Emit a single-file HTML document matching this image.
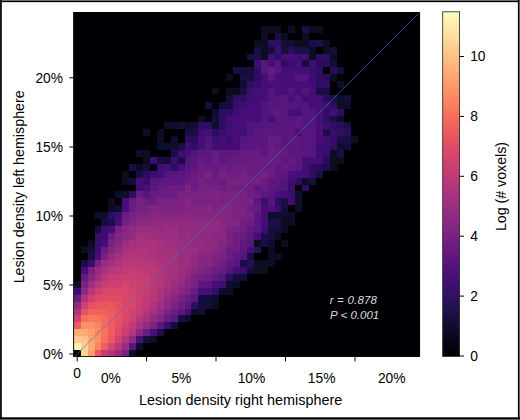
<!DOCTYPE html>
<html><head><meta charset="utf-8">
<style>
html,body{margin:0;padding:0;background:#fff;}
body{width:520px;height:420px;overflow:hidden;position:relative;font-family:"Liberation Sans",sans-serif;}
svg{position:absolute;left:0;top:0;}
text{font-family:"Liberation Sans",sans-serif;fill:#000;}
</style></head><body>
<svg width="520" height="420" viewBox="0 0 520 420">
<defs>
<linearGradient id="cb" x1="0" y1="0" x2="0" y2="1"><stop offset="0.000" stop-color="#fcfdbf"/><stop offset="0.043" stop-color="#fde9aa"/><stop offset="0.087" stop-color="#fed597"/><stop offset="0.130" stop-color="#fec185"/><stop offset="0.174" stop-color="#feac76"/><stop offset="0.217" stop-color="#fd9869"/><stop offset="0.261" stop-color="#fb835f"/><stop offset="0.304" stop-color="#f66e5c"/><stop offset="0.348" stop-color="#ed5a5f"/><stop offset="0.391" stop-color="#e04c67"/><stop offset="0.435" stop-color="#d0416f"/><stop offset="0.478" stop-color="#bf3a77"/><stop offset="0.522" stop-color="#ad347c"/><stop offset="0.565" stop-color="#9b2e7f"/><stop offset="0.609" stop-color="#892881"/><stop offset="0.652" stop-color="#782281"/><stop offset="0.696" stop-color="#651a80"/><stop offset="0.739" stop-color="#54137d"/><stop offset="0.783" stop-color="#420f75"/><stop offset="0.826" stop-color="#2f1163"/><stop offset="0.870" stop-color="#1e1149"/><stop offset="0.913" stop-color="#110c2f"/><stop offset="0.957" stop-color="#060518"/><stop offset="1.000" stop-color="#000004"/></linearGradient>
<filter id="bl" x="-2%" y="-2%" width="104%" height="104%"><feGaussianBlur stdDeviation="0.5"/></filter>
<clipPath id="cp"><rect x="73.5" y="12.1" width="346.4" height="344.7"/></clipPath>
</defs>
<rect x="0" y="0" width="520" height="420" fill="#fff"/>
<!-- frame -->
<rect x="0" y="0" width="520" height="1" fill="#7a7a7a"/>
<rect x="0" y="0.9" width="520" height="1.25" fill="#000"/>
<rect x="0" y="0" width="1.9" height="420" fill="#161616"/>
<rect x="517.9" y="0" width="1.3" height="420" fill="#000"/>
<rect x="519.1" y="0" width="0.9" height="420" fill="#555"/>
<rect x="0" y="417.3" width="520" height="1.7" fill="#000"/>
<rect x="0" y="419" width="520" height="1" fill="#555"/>
<!-- heatmap -->
<rect x="73.5" y="12.1" width="346.4" height="344.7" fill="#000004"/>
<g clip-path="url(#cp)"><g filter="url(#bl)"><g shape-rendering="crispEdges">
<rect x="80.67" y="349.81" width="6.97" height="6.94" fill="#fed597"/>
<rect x="87.60" y="349.81" width="6.97" height="6.94" fill="#fe9d6c"/>
<rect x="94.52" y="349.81" width="6.97" height="6.94" fill="#ea5661"/>
<rect x="101.44" y="349.81" width="6.97" height="6.94" fill="#c73d73"/>
<rect x="108.36" y="349.81" width="6.97" height="6.94" fill="#b0357b"/>
<rect x="115.29" y="349.81" width="6.97" height="6.94" fill="#962c80"/>
<rect x="122.21" y="349.81" width="6.97" height="6.94" fill="#732081"/>
<rect x="129.13" y="349.81" width="6.97" height="6.94" fill="#090720"/>
<rect x="73.75" y="342.92" width="6.97" height="6.94" fill="#fcf2b4"/>
<rect x="80.67" y="342.92" width="6.97" height="6.94" fill="#fed194"/>
<rect x="87.60" y="342.92" width="6.97" height="6.94" fill="#feac76"/>
<rect x="94.52" y="342.92" width="6.97" height="6.94" fill="#fb835f"/>
<rect x="101.44" y="342.92" width="6.97" height="6.94" fill="#ef5d5e"/>
<rect x="108.36" y="342.92" width="6.97" height="6.94" fill="#d8456c"/>
<rect x="115.29" y="342.92" width="6.97" height="6.94" fill="#b83779"/>
<rect x="122.21" y="342.92" width="6.97" height="6.94" fill="#992d80"/>
<rect x="129.13" y="342.92" width="6.97" height="6.94" fill="#54137d"/>
<rect x="136.06" y="342.92" width="6.97" height="6.94" fill="#110c2f"/>
<rect x="73.75" y="336.03" width="6.97" height="6.94" fill="#feca8d"/>
<rect x="80.67" y="336.03" width="6.97" height="6.94" fill="#fec185"/>
<rect x="87.60" y="336.03" width="6.97" height="6.94" fill="#fea772"/>
<rect x="94.52" y="336.03" width="6.97" height="6.94" fill="#fc8e64"/>
<rect x="101.44" y="336.03" width="6.97" height="6.94" fill="#f66e5c"/>
<rect x="108.36" y="336.03" width="6.97" height="6.94" fill="#ea5661"/>
<rect x="115.29" y="336.03" width="6.97" height="6.94" fill="#d0416f"/>
<rect x="122.21" y="336.03" width="6.97" height="6.94" fill="#b5367a"/>
<rect x="129.13" y="336.03" width="6.97" height="6.94" fill="#8e2a81"/>
<rect x="136.06" y="336.03" width="6.97" height="6.94" fill="#4a1079"/>
<rect x="142.98" y="336.03" width="6.97" height="6.94" fill="#150e38"/>
<rect x="149.90" y="336.03" width="6.97" height="6.94" fill="#090720"/>
<rect x="73.75" y="329.14" width="13.90" height="6.94" fill="#feac76"/>
<rect x="87.60" y="329.14" width="6.97" height="6.94" fill="#fe9d6c"/>
<rect x="94.52" y="329.14" width="6.97" height="6.94" fill="#fc8961"/>
<rect x="101.44" y="329.14" width="6.97" height="6.94" fill="#f8745c"/>
<rect x="108.36" y="329.14" width="6.97" height="6.94" fill="#ef5d5e"/>
<rect x="115.29" y="329.14" width="6.97" height="6.94" fill="#de4968"/>
<rect x="122.21" y="329.14" width="6.97" height="6.94" fill="#ca3e72"/>
<rect x="129.13" y="329.14" width="6.97" height="6.94" fill="#b0357b"/>
<rect x="136.06" y="329.14" width="6.97" height="6.94" fill="#882781"/>
<rect x="142.98" y="329.14" width="6.97" height="6.94" fill="#651a80"/>
<rect x="149.90" y="329.14" width="6.97" height="6.94" fill="#4a1079"/>
<rect x="156.83" y="329.14" width="6.97" height="6.94" fill="#1e1149"/>
<rect x="73.75" y="322.25" width="6.97" height="6.94" fill="#ef5d5e"/>
<rect x="80.67" y="322.25" width="6.97" height="6.94" fill="#fd9266"/>
<rect x="87.60" y="322.25" width="6.97" height="6.94" fill="#fc8e64"/>
<rect x="94.52" y="322.25" width="6.97" height="6.94" fill="#fb835f"/>
<rect x="101.44" y="322.25" width="6.97" height="6.94" fill="#f66e5c"/>
<rect x="108.36" y="322.25" width="6.97" height="6.94" fill="#ef5d5e"/>
<rect x="115.29" y="322.25" width="6.97" height="6.94" fill="#e44f64"/>
<rect x="122.21" y="322.25" width="6.97" height="6.94" fill="#d3436e"/>
<rect x="129.13" y="322.25" width="6.97" height="6.94" fill="#bf3a77"/>
<rect x="136.06" y="322.25" width="6.97" height="6.94" fill="#aa337d"/>
<rect x="142.98" y="322.25" width="6.97" height="6.94" fill="#8e2a81"/>
<rect x="149.90" y="322.25" width="6.97" height="6.94" fill="#7c2382"/>
<rect x="156.83" y="322.25" width="6.97" height="6.94" fill="#5c167f"/>
<rect x="163.75" y="322.25" width="6.97" height="6.94" fill="#38106c"/>
<rect x="170.67" y="322.25" width="6.97" height="6.94" fill="#150e38"/>
<rect x="73.75" y="315.36" width="6.97" height="6.94" fill="#d0416f"/>
<rect x="80.67" y="315.36" width="6.97" height="6.94" fill="#f66e5c"/>
<rect x="87.60" y="315.36" width="6.97" height="6.94" fill="#f9795d"/>
<rect x="94.52" y="315.36" width="6.97" height="6.94" fill="#f8745c"/>
<rect x="101.44" y="315.36" width="6.97" height="6.94" fill="#f56b5c"/>
<rect x="108.36" y="315.36" width="6.97" height="6.94" fill="#ef5d5e"/>
<rect x="115.29" y="315.36" width="6.97" height="6.94" fill="#e75263"/>
<rect x="122.21" y="315.36" width="6.97" height="6.94" fill="#db476a"/>
<rect x="129.13" y="315.36" width="6.97" height="6.94" fill="#cd4071"/>
<rect x="136.06" y="315.36" width="6.97" height="6.94" fill="#b73779"/>
<rect x="142.98" y="315.36" width="6.97" height="6.94" fill="#a5317e"/>
<rect x="149.90" y="315.36" width="6.97" height="6.94" fill="#902a81"/>
<rect x="156.83" y="315.36" width="6.97" height="6.94" fill="#812581"/>
<rect x="163.75" y="315.36" width="6.97" height="6.94" fill="#6b1d81"/>
<rect x="170.67" y="315.36" width="6.97" height="6.94" fill="#5c167f"/>
<rect x="177.59" y="315.36" width="6.97" height="6.94" fill="#1e1149"/>
<rect x="184.52" y="315.36" width="6.97" height="6.94" fill="#110c2f"/>
<rect x="73.75" y="308.47" width="6.97" height="6.94" fill="#b0357b"/>
<rect x="80.67" y="308.47" width="6.97" height="6.94" fill="#e75263"/>
<rect x="87.60" y="308.47" width="20.82" height="6.94" fill="#f2625d"/>
<rect x="108.36" y="308.47" width="6.97" height="6.94" fill="#ed5a5f"/>
<rect x="115.29" y="308.47" width="6.97" height="6.94" fill="#e75263"/>
<rect x="122.21" y="308.47" width="6.97" height="6.94" fill="#de4968"/>
<rect x="129.13" y="308.47" width="6.97" height="6.94" fill="#d2426f"/>
<rect x="136.06" y="308.47" width="6.97" height="6.94" fill="#c53c74"/>
<rect x="142.98" y="308.47" width="6.97" height="6.94" fill="#b2357b"/>
<rect x="149.90" y="308.47" width="6.97" height="6.94" fill="#a1307e"/>
<rect x="156.83" y="308.47" width="6.97" height="6.94" fill="#902a81"/>
<rect x="163.75" y="308.47" width="6.97" height="6.94" fill="#782281"/>
<rect x="170.67" y="308.47" width="6.97" height="6.94" fill="#6b1d81"/>
<rect x="177.59" y="308.47" width="6.97" height="6.94" fill="#5f187f"/>
<rect x="184.52" y="308.47" width="6.97" height="6.94" fill="#440f76"/>
<rect x="191.44" y="308.47" width="6.97" height="6.94" fill="#0b0924"/>
<rect x="198.36" y="308.47" width="6.97" height="6.94" fill="#150e38"/>
<rect x="73.75" y="301.58" width="6.97" height="6.94" fill="#8e2a81"/>
<rect x="80.67" y="301.58" width="6.97" height="6.94" fill="#d0416f"/>
<rect x="87.60" y="301.58" width="6.97" height="6.94" fill="#e44f64"/>
<rect x="94.52" y="301.58" width="20.82" height="6.94" fill="#ea5661"/>
<rect x="115.29" y="301.58" width="6.97" height="6.94" fill="#e44f64"/>
<rect x="122.21" y="301.58" width="6.97" height="6.94" fill="#db476a"/>
<rect x="129.13" y="301.58" width="6.97" height="6.94" fill="#d5446d"/>
<rect x="136.06" y="301.58" width="6.97" height="6.94" fill="#ca3e72"/>
<rect x="142.98" y="301.58" width="6.97" height="6.94" fill="#bf3a77"/>
<rect x="149.90" y="301.58" width="6.97" height="6.94" fill="#ae347b"/>
<rect x="156.83" y="301.58" width="6.97" height="6.94" fill="#a02f7f"/>
<rect x="163.75" y="301.58" width="6.97" height="6.94" fill="#8e2a81"/>
<rect x="170.67" y="301.58" width="6.97" height="6.94" fill="#7c2382"/>
<rect x="177.59" y="301.58" width="6.97" height="6.94" fill="#6b1d81"/>
<rect x="184.52" y="301.58" width="6.97" height="6.94" fill="#5c167f"/>
<rect x="191.44" y="301.58" width="6.97" height="6.94" fill="#2f1163"/>
<rect x="198.36" y="301.58" width="13.90" height="6.94" fill="#150e38"/>
<rect x="212.21" y="301.58" width="6.97" height="6.94" fill="#0b0924"/>
<rect x="73.75" y="294.69" width="6.97" height="6.94" fill="#651a80"/>
<rect x="80.67" y="294.69" width="6.97" height="6.94" fill="#b0357b"/>
<rect x="87.60" y="294.69" width="6.97" height="6.94" fill="#d0416f"/>
<rect x="94.52" y="294.69" width="6.97" height="6.94" fill="#de4968"/>
<rect x="101.44" y="294.69" width="20.82" height="6.94" fill="#e04c67"/>
<rect x="122.21" y="294.69" width="6.97" height="6.94" fill="#db476a"/>
<rect x="129.13" y="294.69" width="6.97" height="6.94" fill="#d6456c"/>
<rect x="136.06" y="294.69" width="6.97" height="6.94" fill="#cf4070"/>
<rect x="142.98" y="294.69" width="6.97" height="6.94" fill="#bf3a77"/>
<rect x="149.90" y="294.69" width="6.97" height="6.94" fill="#b83779"/>
<rect x="156.83" y="294.69" width="6.97" height="6.94" fill="#a8327d"/>
<rect x="163.75" y="294.69" width="6.97" height="6.94" fill="#962c80"/>
<rect x="170.67" y="294.69" width="6.97" height="6.94" fill="#862781"/>
<rect x="177.59" y="294.69" width="6.97" height="6.94" fill="#752181"/>
<rect x="184.52" y="294.69" width="6.97" height="6.94" fill="#651a80"/>
<rect x="191.44" y="294.69" width="6.97" height="6.94" fill="#5c167f"/>
<rect x="198.36" y="294.69" width="13.90" height="6.94" fill="#180f3d"/>
<rect x="212.21" y="294.69" width="6.97" height="6.94" fill="#110c2f"/>
<rect x="73.75" y="287.80" width="6.97" height="6.94" fill="#3d0f71"/>
<rect x="80.67" y="287.80" width="6.97" height="6.94" fill="#8e2a81"/>
<rect x="87.60" y="287.80" width="6.97" height="6.94" fill="#b83779"/>
<rect x="94.52" y="287.80" width="6.97" height="6.94" fill="#cd4071"/>
<rect x="101.44" y="287.80" width="6.97" height="6.94" fill="#d8456c"/>
<rect x="108.36" y="287.80" width="13.90" height="6.94" fill="#db476a"/>
<rect x="122.21" y="287.80" width="6.97" height="6.94" fill="#d9466b"/>
<rect x="129.13" y="287.80" width="6.97" height="6.94" fill="#d3436e"/>
<rect x="136.06" y="287.80" width="6.97" height="6.94" fill="#cc3f71"/>
<rect x="142.98" y="287.80" width="6.97" height="6.94" fill="#c73d73"/>
<rect x="149.90" y="287.80" width="6.97" height="6.94" fill="#b83779"/>
<rect x="156.83" y="287.80" width="6.97" height="6.94" fill="#ae347b"/>
<rect x="163.75" y="287.80" width="6.97" height="6.94" fill="#9e2f7f"/>
<rect x="170.67" y="287.80" width="6.97" height="6.94" fill="#962c80"/>
<rect x="177.59" y="287.80" width="6.97" height="6.94" fill="#862781"/>
<rect x="184.52" y="287.80" width="6.97" height="6.94" fill="#7c2382"/>
<rect x="191.44" y="287.80" width="6.97" height="6.94" fill="#651a80"/>
<rect x="198.36" y="287.80" width="6.97" height="6.94" fill="#4a1079"/>
<rect x="205.29" y="287.80" width="6.97" height="6.94" fill="#440f76"/>
<rect x="212.21" y="287.80" width="6.97" height="6.94" fill="#2f1163"/>
<rect x="219.13" y="287.80" width="6.97" height="6.94" fill="#110c2f"/>
<rect x="226.06" y="287.80" width="6.97" height="6.94" fill="#0b0924"/>
<rect x="73.75" y="280.91" width="6.97" height="6.94" fill="#110c2f"/>
<rect x="80.67" y="280.91" width="6.97" height="6.94" fill="#762181"/>
<rect x="87.60" y="280.91" width="6.97" height="6.94" fill="#a02f7f"/>
<rect x="94.52" y="280.91" width="6.97" height="6.94" fill="#b83779"/>
<rect x="101.44" y="280.91" width="6.97" height="6.94" fill="#c53c74"/>
<rect x="108.36" y="280.91" width="6.97" height="6.94" fill="#cf4070"/>
<rect x="115.29" y="280.91" width="6.97" height="6.94" fill="#d0416f"/>
<rect x="122.21" y="280.91" width="6.97" height="6.94" fill="#d5446d"/>
<rect x="129.13" y="280.91" width="6.97" height="6.94" fill="#cf4070"/>
<rect x="136.06" y="280.91" width="6.97" height="6.94" fill="#cc3f71"/>
<rect x="142.98" y="280.91" width="6.97" height="6.94" fill="#c73d73"/>
<rect x="149.90" y="280.91" width="6.97" height="6.94" fill="#bc3978"/>
<rect x="156.83" y="280.91" width="6.97" height="6.94" fill="#b3367a"/>
<rect x="163.75" y="280.91" width="6.97" height="6.94" fill="#aa337d"/>
<rect x="170.67" y="280.91" width="6.97" height="6.94" fill="#992d80"/>
<rect x="177.59" y="280.91" width="6.97" height="6.94" fill="#8e2a81"/>
<rect x="184.52" y="280.91" width="6.97" height="6.94" fill="#862781"/>
<rect x="191.44" y="280.91" width="6.97" height="6.94" fill="#792282"/>
<rect x="198.36" y="280.91" width="6.97" height="6.94" fill="#5f187f"/>
<rect x="205.29" y="280.91" width="6.97" height="6.94" fill="#5c167f"/>
<rect x="212.21" y="280.91" width="6.97" height="6.94" fill="#4a1079"/>
<rect x="219.13" y="280.91" width="6.97" height="6.94" fill="#3d0f71"/>
<rect x="226.06" y="280.91" width="6.97" height="6.94" fill="#110c2f"/>
<rect x="232.98" y="280.91" width="6.97" height="6.94" fill="#0b0924"/>
<rect x="80.67" y="274.02" width="6.97" height="6.94" fill="#651a80"/>
<rect x="87.60" y="274.02" width="6.97" height="6.94" fill="#882781"/>
<rect x="94.52" y="274.02" width="6.97" height="6.94" fill="#a02f7f"/>
<rect x="101.44" y="274.02" width="6.97" height="6.94" fill="#b73779"/>
<rect x="108.36" y="274.02" width="6.97" height="6.94" fill="#c43c75"/>
<rect x="115.29" y="274.02" width="6.97" height="6.94" fill="#c73d73"/>
<rect x="122.21" y="274.02" width="6.97" height="6.94" fill="#cc3f71"/>
<rect x="129.13" y="274.02" width="6.97" height="6.94" fill="#ca3e72"/>
<rect x="136.06" y="274.02" width="6.97" height="6.94" fill="#c53c74"/>
<rect x="142.98" y="274.02" width="6.97" height="6.94" fill="#c43c75"/>
<rect x="149.90" y="274.02" width="6.97" height="6.94" fill="#bc3978"/>
<rect x="156.83" y="274.02" width="6.97" height="6.94" fill="#b3367a"/>
<rect x="163.75" y="274.02" width="6.97" height="6.94" fill="#aa337d"/>
<rect x="170.67" y="274.02" width="6.97" height="6.94" fill="#a1307e"/>
<rect x="177.59" y="274.02" width="6.97" height="6.94" fill="#9b2e7f"/>
<rect x="184.52" y="274.02" width="6.97" height="6.94" fill="#8b2981"/>
<rect x="191.44" y="274.02" width="6.97" height="6.94" fill="#7c2382"/>
<rect x="198.36" y="274.02" width="6.97" height="6.94" fill="#732081"/>
<rect x="205.29" y="274.02" width="6.97" height="6.94" fill="#701f81"/>
<rect x="212.21" y="274.02" width="6.97" height="6.94" fill="#621980"/>
<rect x="219.13" y="274.02" width="6.97" height="6.94" fill="#51127c"/>
<rect x="226.06" y="274.02" width="6.97" height="6.94" fill="#2f1163"/>
<rect x="232.98" y="274.02" width="6.97" height="6.94" fill="#180f3d"/>
<rect x="239.90" y="274.02" width="6.97" height="6.94" fill="#150e38"/>
<rect x="80.67" y="267.13" width="6.97" height="6.94" fill="#4a1079"/>
<rect x="87.60" y="267.13" width="6.97" height="6.94" fill="#762181"/>
<rect x="94.52" y="267.13" width="6.97" height="6.94" fill="#962c80"/>
<rect x="101.44" y="267.13" width="6.97" height="6.94" fill="#a6317d"/>
<rect x="108.36" y="267.13" width="6.97" height="6.94" fill="#b73779"/>
<rect x="115.29" y="267.13" width="6.97" height="6.94" fill="#bc3978"/>
<rect x="122.21" y="267.13" width="6.97" height="6.94" fill="#bf3a77"/>
<rect x="129.13" y="267.13" width="6.97" height="6.94" fill="#c53c74"/>
<rect x="136.06" y="267.13" width="6.97" height="6.94" fill="#c23b75"/>
<rect x="142.98" y="267.13" width="6.97" height="6.94" fill="#bc3978"/>
<rect x="149.90" y="267.13" width="6.97" height="6.94" fill="#bd3977"/>
<rect x="156.83" y="267.13" width="6.97" height="6.94" fill="#b3367a"/>
<rect x="163.75" y="267.13" width="6.97" height="6.94" fill="#ab337c"/>
<rect x="170.67" y="267.13" width="6.97" height="6.94" fill="#a6317d"/>
<rect x="177.59" y="267.13" width="6.97" height="6.94" fill="#9c2e7f"/>
<rect x="184.52" y="267.13" width="6.97" height="6.94" fill="#962c80"/>
<rect x="191.44" y="267.13" width="6.97" height="6.94" fill="#892881"/>
<rect x="198.36" y="267.13" width="6.97" height="6.94" fill="#802582"/>
<rect x="205.29" y="267.13" width="6.97" height="6.94" fill="#732081"/>
<rect x="212.21" y="267.13" width="6.97" height="6.94" fill="#6b1d81"/>
<rect x="219.13" y="267.13" width="6.97" height="6.94" fill="#651a80"/>
<rect x="226.06" y="267.13" width="6.97" height="6.94" fill="#51127c"/>
<rect x="232.98" y="267.13" width="6.97" height="6.94" fill="#440f76"/>
<rect x="239.90" y="267.13" width="6.97" height="6.94" fill="#38106c"/>
<rect x="246.82" y="267.13" width="6.97" height="6.94" fill="#150e38"/>
<rect x="253.75" y="267.13" width="13.90" height="6.94" fill="#090720"/>
<rect x="80.67" y="260.24" width="6.97" height="6.94" fill="#1e1149"/>
<rect x="87.60" y="260.24" width="6.97" height="6.94" fill="#38106c"/>
<rect x="94.52" y="260.24" width="6.97" height="6.94" fill="#762181"/>
<rect x="101.44" y="260.24" width="6.97" height="6.94" fill="#992d80"/>
<rect x="108.36" y="260.24" width="6.97" height="6.94" fill="#a3307e"/>
<rect x="115.29" y="260.24" width="6.97" height="6.94" fill="#ae347b"/>
<rect x="122.21" y="260.24" width="20.82" height="6.94" fill="#bc3978"/>
<rect x="142.98" y="260.24" width="6.97" height="6.94" fill="#b83779"/>
<rect x="149.90" y="260.24" width="6.97" height="6.94" fill="#b3367a"/>
<rect x="156.83" y="260.24" width="6.97" height="6.94" fill="#ae347b"/>
<rect x="163.75" y="260.24" width="6.97" height="6.94" fill="#aa337d"/>
<rect x="170.67" y="260.24" width="6.97" height="6.94" fill="#a1307e"/>
<rect x="177.59" y="260.24" width="6.97" height="6.94" fill="#9c2e7f"/>
<rect x="184.52" y="260.24" width="6.97" height="6.94" fill="#9b2e7f"/>
<rect x="191.44" y="260.24" width="6.97" height="6.94" fill="#902a81"/>
<rect x="198.36" y="260.24" width="6.97" height="6.94" fill="#862781"/>
<rect x="205.29" y="260.24" width="6.97" height="6.94" fill="#812581"/>
<rect x="212.21" y="260.24" width="6.97" height="6.94" fill="#792282"/>
<rect x="219.13" y="260.24" width="6.97" height="6.94" fill="#701f81"/>
<rect x="226.06" y="260.24" width="6.97" height="6.94" fill="#621980"/>
<rect x="232.98" y="260.24" width="6.97" height="6.94" fill="#54137d"/>
<rect x="239.90" y="260.24" width="6.97" height="6.94" fill="#1e1149"/>
<rect x="246.82" y="260.24" width="6.97" height="6.94" fill="#29115a"/>
<rect x="253.75" y="260.24" width="20.82" height="6.94" fill="#0b0924"/>
<rect x="87.60" y="253.35" width="6.97" height="6.94" fill="#1e1149"/>
<rect x="94.52" y="253.35" width="6.97" height="6.94" fill="#4a1079"/>
<rect x="101.44" y="253.35" width="6.97" height="6.94" fill="#7c2382"/>
<rect x="108.36" y="253.35" width="6.97" height="6.94" fill="#932b80"/>
<rect x="115.29" y="253.35" width="6.97" height="6.94" fill="#a3307e"/>
<rect x="122.21" y="253.35" width="6.97" height="6.94" fill="#ae347b"/>
<rect x="129.13" y="253.35" width="13.90" height="6.94" fill="#b3367a"/>
<rect x="142.98" y="253.35" width="13.90" height="6.94" fill="#ae347b"/>
<rect x="156.83" y="253.35" width="13.90" height="6.94" fill="#a8327d"/>
<rect x="170.67" y="253.35" width="6.97" height="6.94" fill="#a1307e"/>
<rect x="177.59" y="253.35" width="6.97" height="6.94" fill="#9c2e7f"/>
<rect x="184.52" y="253.35" width="6.97" height="6.94" fill="#982d80"/>
<rect x="191.44" y="253.35" width="6.97" height="6.94" fill="#8e2a81"/>
<rect x="198.36" y="253.35" width="6.97" height="6.94" fill="#862781"/>
<rect x="205.29" y="253.35" width="6.97" height="6.94" fill="#892881"/>
<rect x="212.21" y="253.35" width="6.97" height="6.94" fill="#7b2382"/>
<rect x="219.13" y="253.35" width="6.97" height="6.94" fill="#762181"/>
<rect x="226.06" y="253.35" width="6.97" height="6.94" fill="#6e1e81"/>
<rect x="232.98" y="253.35" width="6.97" height="6.94" fill="#5f187f"/>
<rect x="239.90" y="253.35" width="6.97" height="6.94" fill="#51127c"/>
<rect x="246.82" y="253.35" width="6.97" height="6.94" fill="#1e1149"/>
<rect x="267.59" y="253.35" width="13.90" height="6.94" fill="#090720"/>
<rect x="80.67" y="246.46" width="6.97" height="6.94" fill="#0b0924"/>
<rect x="87.60" y="246.46" width="6.97" height="6.94" fill="#180f3d"/>
<rect x="94.52" y="246.46" width="6.97" height="6.94" fill="#3d0f71"/>
<rect x="101.44" y="246.46" width="6.97" height="6.94" fill="#6b1d81"/>
<rect x="108.36" y="246.46" width="6.97" height="6.94" fill="#882781"/>
<rect x="115.29" y="246.46" width="6.97" height="6.94" fill="#942c80"/>
<rect x="122.21" y="246.46" width="6.97" height="6.94" fill="#a5317e"/>
<rect x="129.13" y="246.46" width="6.97" height="6.94" fill="#aa337d"/>
<rect x="136.06" y="246.46" width="13.90" height="6.94" fill="#ae347b"/>
<rect x="149.90" y="246.46" width="6.97" height="6.94" fill="#ab337c"/>
<rect x="156.83" y="246.46" width="6.97" height="6.94" fill="#a6317d"/>
<rect x="163.75" y="246.46" width="6.97" height="6.94" fill="#a5317e"/>
<rect x="170.67" y="246.46" width="6.97" height="6.94" fill="#a3307e"/>
<rect x="177.59" y="246.46" width="6.97" height="6.94" fill="#9b2e7f"/>
<rect x="184.52" y="246.46" width="6.97" height="6.94" fill="#992d80"/>
<rect x="191.44" y="246.46" width="6.97" height="6.94" fill="#982d80"/>
<rect x="198.36" y="246.46" width="6.97" height="6.94" fill="#932b80"/>
<rect x="205.29" y="246.46" width="6.97" height="6.94" fill="#8c2981"/>
<rect x="212.21" y="246.46" width="6.97" height="6.94" fill="#882781"/>
<rect x="219.13" y="246.46" width="6.97" height="6.94" fill="#802582"/>
<rect x="226.06" y="246.46" width="6.97" height="6.94" fill="#681c81"/>
<rect x="232.98" y="246.46" width="6.97" height="6.94" fill="#6d1d81"/>
<rect x="239.90" y="246.46" width="6.97" height="6.94" fill="#5c167f"/>
<rect x="246.82" y="246.46" width="6.97" height="6.94" fill="#4a1079"/>
<rect x="253.75" y="246.46" width="6.97" height="6.94" fill="#241253"/>
<rect x="267.59" y="246.46" width="6.97" height="6.94" fill="#0b0924"/>
<rect x="87.60" y="239.57" width="6.97" height="6.94" fill="#0b0924"/>
<rect x="94.52" y="239.57" width="6.97" height="6.94" fill="#38106c"/>
<rect x="101.44" y="239.57" width="6.97" height="6.94" fill="#4a1079"/>
<rect x="108.36" y="239.57" width="6.97" height="6.94" fill="#762181"/>
<rect x="115.29" y="239.57" width="6.97" height="6.94" fill="#862781"/>
<rect x="122.21" y="239.57" width="6.97" height="6.94" fill="#992d80"/>
<rect x="129.13" y="239.57" width="6.97" height="6.94" fill="#a5317e"/>
<rect x="136.06" y="239.57" width="13.90" height="6.94" fill="#a8327d"/>
<rect x="149.90" y="239.57" width="6.97" height="6.94" fill="#aa337d"/>
<rect x="156.83" y="239.57" width="6.97" height="6.94" fill="#a5317e"/>
<rect x="163.75" y="239.57" width="13.90" height="6.94" fill="#9e2f7f"/>
<rect x="177.59" y="239.57" width="6.97" height="6.94" fill="#982d80"/>
<rect x="184.52" y="239.57" width="6.97" height="6.94" fill="#992d80"/>
<rect x="191.44" y="239.57" width="6.97" height="6.94" fill="#942c80"/>
<rect x="198.36" y="239.57" width="6.97" height="6.94" fill="#912b81"/>
<rect x="205.29" y="239.57" width="6.97" height="6.94" fill="#8b2981"/>
<rect x="212.21" y="239.57" width="6.97" height="6.94" fill="#8c2981"/>
<rect x="219.13" y="239.57" width="6.97" height="6.94" fill="#812581"/>
<rect x="226.06" y="239.57" width="6.97" height="6.94" fill="#762181"/>
<rect x="232.98" y="239.57" width="6.97" height="6.94" fill="#6e1e81"/>
<rect x="239.90" y="239.57" width="6.97" height="6.94" fill="#621980"/>
<rect x="246.82" y="239.57" width="6.97" height="6.94" fill="#57157e"/>
<rect x="253.75" y="239.57" width="6.97" height="6.94" fill="#0b0924"/>
<rect x="260.67" y="239.57" width="6.97" height="6.94" fill="#1e1149"/>
<rect x="267.59" y="239.57" width="6.97" height="6.94" fill="#110c2f"/>
<rect x="281.44" y="239.57" width="6.97" height="6.94" fill="#0b0924"/>
<rect x="94.52" y="232.68" width="6.97" height="6.94" fill="#38106c"/>
<rect x="101.44" y="232.68" width="6.97" height="6.94" fill="#3d0f71"/>
<rect x="108.36" y="232.68" width="6.97" height="6.94" fill="#6b1d81"/>
<rect x="115.29" y="232.68" width="6.97" height="6.94" fill="#812581"/>
<rect x="122.21" y="232.68" width="6.97" height="6.94" fill="#8c2981"/>
<rect x="129.13" y="232.68" width="6.97" height="6.94" fill="#942c80"/>
<rect x="136.06" y="232.68" width="6.97" height="6.94" fill="#a6317d"/>
<rect x="142.98" y="232.68" width="6.97" height="6.94" fill="#a3307e"/>
<rect x="149.90" y="232.68" width="6.97" height="6.94" fill="#9e2f7f"/>
<rect x="156.83" y="232.68" width="6.97" height="6.94" fill="#a02f7f"/>
<rect x="163.75" y="232.68" width="6.97" height="6.94" fill="#9c2e7f"/>
<rect x="170.67" y="232.68" width="6.97" height="6.94" fill="#9b2e7f"/>
<rect x="177.59" y="232.68" width="6.97" height="6.94" fill="#942c80"/>
<rect x="184.52" y="232.68" width="6.97" height="6.94" fill="#982d80"/>
<rect x="191.44" y="232.68" width="13.90" height="6.94" fill="#902a81"/>
<rect x="205.29" y="232.68" width="6.97" height="6.94" fill="#8c2981"/>
<rect x="212.21" y="232.68" width="13.90" height="6.94" fill="#892881"/>
<rect x="226.06" y="232.68" width="6.97" height="6.94" fill="#762181"/>
<rect x="232.98" y="232.68" width="6.97" height="6.94" fill="#701f81"/>
<rect x="239.90" y="232.68" width="6.97" height="6.94" fill="#671b80"/>
<rect x="246.82" y="232.68" width="6.97" height="6.94" fill="#5c167f"/>
<rect x="253.75" y="232.68" width="6.97" height="6.94" fill="#4a1079"/>
<rect x="260.67" y="232.68" width="6.97" height="6.94" fill="#1e1149"/>
<rect x="267.59" y="232.68" width="6.97" height="6.94" fill="#150e38"/>
<rect x="274.52" y="232.68" width="6.97" height="6.94" fill="#090720"/>
<rect x="94.52" y="225.79" width="6.97" height="6.94" fill="#150e38"/>
<rect x="101.44" y="225.79" width="6.97" height="6.94" fill="#3d0f71"/>
<rect x="108.36" y="225.79" width="6.97" height="6.94" fill="#4a1079"/>
<rect x="115.29" y="225.79" width="6.97" height="6.94" fill="#732081"/>
<rect x="122.21" y="225.79" width="6.97" height="6.94" fill="#882781"/>
<rect x="129.13" y="225.79" width="6.97" height="6.94" fill="#932b80"/>
<rect x="136.06" y="225.79" width="20.82" height="6.94" fill="#982d80"/>
<rect x="156.83" y="225.79" width="6.97" height="6.94" fill="#962c80"/>
<rect x="163.75" y="225.79" width="13.90" height="6.94" fill="#982d80"/>
<rect x="177.59" y="225.79" width="6.97" height="6.94" fill="#942c80"/>
<rect x="184.52" y="225.79" width="6.97" height="6.94" fill="#932b80"/>
<rect x="191.44" y="225.79" width="6.97" height="6.94" fill="#942c80"/>
<rect x="198.36" y="225.79" width="6.97" height="6.94" fill="#912b81"/>
<rect x="205.29" y="225.79" width="6.97" height="6.94" fill="#8e2a81"/>
<rect x="212.21" y="225.79" width="6.97" height="6.94" fill="#902a81"/>
<rect x="219.13" y="225.79" width="6.97" height="6.94" fill="#882781"/>
<rect x="226.06" y="225.79" width="6.97" height="6.94" fill="#7e2482"/>
<rect x="232.98" y="225.79" width="6.97" height="6.94" fill="#762181"/>
<rect x="239.90" y="225.79" width="6.97" height="6.94" fill="#721f81"/>
<rect x="246.82" y="225.79" width="6.97" height="6.94" fill="#621980"/>
<rect x="253.75" y="225.79" width="6.97" height="6.94" fill="#54137d"/>
<rect x="260.67" y="225.79" width="6.97" height="6.94" fill="#3d0f71"/>
<rect x="267.59" y="225.79" width="13.90" height="6.94" fill="#180f3d"/>
<rect x="281.44" y="225.79" width="6.97" height="6.94" fill="#0b0924"/>
<rect x="101.44" y="218.90" width="6.97" height="6.94" fill="#180f3d"/>
<rect x="108.36" y="218.90" width="6.97" height="6.94" fill="#1e1149"/>
<rect x="115.29" y="218.90" width="6.97" height="6.94" fill="#4a1079"/>
<rect x="122.21" y="218.90" width="6.97" height="6.94" fill="#762181"/>
<rect x="129.13" y="218.90" width="6.97" height="6.94" fill="#812581"/>
<rect x="136.06" y="218.90" width="6.97" height="6.94" fill="#8c2981"/>
<rect x="142.98" y="218.90" width="6.97" height="6.94" fill="#8b2981"/>
<rect x="149.90" y="218.90" width="6.97" height="6.94" fill="#8e2a81"/>
<rect x="156.83" y="218.90" width="6.97" height="6.94" fill="#912b81"/>
<rect x="163.75" y="218.90" width="13.90" height="6.94" fill="#932b80"/>
<rect x="177.59" y="218.90" width="6.97" height="6.94" fill="#8e2a81"/>
<rect x="184.52" y="218.90" width="6.97" height="6.94" fill="#932b80"/>
<rect x="191.44" y="218.90" width="6.97" height="6.94" fill="#8e2a81"/>
<rect x="198.36" y="218.90" width="13.90" height="6.94" fill="#8c2981"/>
<rect x="212.21" y="218.90" width="6.97" height="6.94" fill="#932b80"/>
<rect x="219.13" y="218.90" width="6.97" height="6.94" fill="#892881"/>
<rect x="226.06" y="218.90" width="6.97" height="6.94" fill="#812581"/>
<rect x="232.98" y="218.90" width="6.97" height="6.94" fill="#802582"/>
<rect x="239.90" y="218.90" width="6.97" height="6.94" fill="#721f81"/>
<rect x="246.82" y="218.90" width="6.97" height="6.94" fill="#701f81"/>
<rect x="253.75" y="218.90" width="6.97" height="6.94" fill="#5c167f"/>
<rect x="260.67" y="218.90" width="6.97" height="6.94" fill="#4a1079"/>
<rect x="267.59" y="218.90" width="13.90" height="6.94" fill="#1e1149"/>
<rect x="281.44" y="218.90" width="13.90" height="6.94" fill="#0b0924"/>
<rect x="94.52" y="212.01" width="13.90" height="6.94" fill="#110c2f"/>
<rect x="108.36" y="212.01" width="6.97" height="6.94" fill="#2f1163"/>
<rect x="115.29" y="212.01" width="6.97" height="6.94" fill="#3d0f71"/>
<rect x="122.21" y="212.01" width="6.97" height="6.94" fill="#6b1d81"/>
<rect x="129.13" y="212.01" width="6.97" height="6.94" fill="#762181"/>
<rect x="136.06" y="212.01" width="13.90" height="6.94" fill="#802582"/>
<rect x="149.90" y="212.01" width="6.97" height="6.94" fill="#842681"/>
<rect x="156.83" y="212.01" width="6.97" height="6.94" fill="#862781"/>
<rect x="163.75" y="212.01" width="6.97" height="6.94" fill="#882781"/>
<rect x="170.67" y="212.01" width="6.97" height="6.94" fill="#832681"/>
<rect x="177.59" y="212.01" width="20.82" height="6.94" fill="#892881"/>
<rect x="198.36" y="212.01" width="6.97" height="6.94" fill="#862781"/>
<rect x="205.29" y="212.01" width="6.97" height="6.94" fill="#842681"/>
<rect x="212.21" y="212.01" width="6.97" height="6.94" fill="#812581"/>
<rect x="219.13" y="212.01" width="6.97" height="6.94" fill="#862781"/>
<rect x="226.06" y="212.01" width="6.97" height="6.94" fill="#832681"/>
<rect x="232.98" y="212.01" width="6.97" height="6.94" fill="#7b2382"/>
<rect x="239.90" y="212.01" width="6.97" height="6.94" fill="#782281"/>
<rect x="246.82" y="212.01" width="6.97" height="6.94" fill="#732081"/>
<rect x="253.75" y="212.01" width="6.97" height="6.94" fill="#59157e"/>
<rect x="260.67" y="212.01" width="6.97" height="6.94" fill="#451077"/>
<rect x="267.59" y="212.01" width="27.74" height="6.94" fill="#110c2f"/>
<rect x="108.36" y="205.12" width="6.97" height="6.94" fill="#0b0924"/>
<rect x="115.29" y="205.12" width="6.97" height="6.94" fill="#110c2f"/>
<rect x="122.21" y="205.12" width="6.97" height="6.94" fill="#4a1079"/>
<rect x="129.13" y="205.12" width="6.97" height="6.94" fill="#6b1d81"/>
<rect x="136.06" y="205.12" width="6.97" height="6.94" fill="#732081"/>
<rect x="142.98" y="205.12" width="6.97" height="6.94" fill="#752181"/>
<rect x="149.90" y="205.12" width="6.97" height="6.94" fill="#802582"/>
<rect x="156.83" y="205.12" width="6.97" height="6.94" fill="#7e2482"/>
<rect x="163.75" y="205.12" width="6.97" height="6.94" fill="#7c2382"/>
<rect x="170.67" y="205.12" width="13.90" height="6.94" fill="#7e2482"/>
<rect x="184.52" y="205.12" width="6.97" height="6.94" fill="#842681"/>
<rect x="191.44" y="205.12" width="6.97" height="6.94" fill="#812581"/>
<rect x="198.36" y="205.12" width="6.97" height="6.94" fill="#842681"/>
<rect x="205.29" y="205.12" width="6.97" height="6.94" fill="#882781"/>
<rect x="212.21" y="205.12" width="6.97" height="6.94" fill="#7b2382"/>
<rect x="219.13" y="205.12" width="13.90" height="6.94" fill="#832681"/>
<rect x="232.98" y="205.12" width="6.97" height="6.94" fill="#792282"/>
<rect x="239.90" y="205.12" width="6.97" height="6.94" fill="#7b2382"/>
<rect x="246.82" y="205.12" width="6.97" height="6.94" fill="#6b1d81"/>
<rect x="253.75" y="205.12" width="6.97" height="6.94" fill="#651a80"/>
<rect x="260.67" y="205.12" width="6.97" height="6.94" fill="#4a1079"/>
<rect x="267.59" y="205.12" width="6.97" height="6.94" fill="#4e117b"/>
<rect x="274.52" y="205.12" width="6.97" height="6.94" fill="#3b0f70"/>
<rect x="281.44" y="205.12" width="6.97" height="6.94" fill="#180f3d"/>
<rect x="295.29" y="205.12" width="6.97" height="6.94" fill="#110c2f"/>
<rect x="108.36" y="198.23" width="6.97" height="6.94" fill="#0b0924"/>
<rect x="122.21" y="198.23" width="6.97" height="6.94" fill="#4a1079"/>
<rect x="129.13" y="198.23" width="6.97" height="6.94" fill="#651a80"/>
<rect x="136.06" y="198.23" width="6.97" height="6.94" fill="#762181"/>
<rect x="142.98" y="198.23" width="6.97" height="6.94" fill="#6d1d81"/>
<rect x="149.90" y="198.23" width="6.97" height="6.94" fill="#681c81"/>
<rect x="156.83" y="198.23" width="6.97" height="6.94" fill="#792282"/>
<rect x="163.75" y="198.23" width="6.97" height="6.94" fill="#782281"/>
<rect x="170.67" y="198.23" width="6.97" height="6.94" fill="#752181"/>
<rect x="177.59" y="198.23" width="6.97" height="6.94" fill="#7c2382"/>
<rect x="184.52" y="198.23" width="6.97" height="6.94" fill="#842681"/>
<rect x="191.44" y="198.23" width="6.97" height="6.94" fill="#7c2382"/>
<rect x="198.36" y="198.23" width="6.97" height="6.94" fill="#762181"/>
<rect x="205.29" y="198.23" width="6.97" height="6.94" fill="#7c2382"/>
<rect x="212.21" y="198.23" width="13.90" height="6.94" fill="#792282"/>
<rect x="226.06" y="198.23" width="6.97" height="6.94" fill="#7e2482"/>
<rect x="232.98" y="198.23" width="6.97" height="6.94" fill="#7b2382"/>
<rect x="239.90" y="198.23" width="6.97" height="6.94" fill="#732081"/>
<rect x="246.82" y="198.23" width="6.97" height="6.94" fill="#762181"/>
<rect x="253.75" y="198.23" width="6.97" height="6.94" fill="#5a167e"/>
<rect x="260.67" y="198.23" width="6.97" height="6.94" fill="#3d0f71"/>
<rect x="267.59" y="198.23" width="6.97" height="6.94" fill="#54137d"/>
<rect x="274.52" y="198.23" width="6.97" height="6.94" fill="#2c115f"/>
<rect x="281.44" y="198.23" width="6.97" height="6.94" fill="#1e1149"/>
<rect x="288.36" y="198.23" width="6.97" height="6.94" fill="#3d0f71"/>
<rect x="295.29" y="198.23" width="6.97" height="6.94" fill="#110c2f"/>
<rect x="115.29" y="191.34" width="13.90" height="6.94" fill="#110c2f"/>
<rect x="129.13" y="191.34" width="6.97" height="6.94" fill="#2f1163"/>
<rect x="136.06" y="191.34" width="6.97" height="6.94" fill="#651a80"/>
<rect x="142.98" y="191.34" width="6.97" height="6.94" fill="#54137d"/>
<rect x="149.90" y="191.34" width="6.97" height="6.94" fill="#651a80"/>
<rect x="156.83" y="191.34" width="6.97" height="6.94" fill="#681c81"/>
<rect x="163.75" y="191.34" width="13.90" height="6.94" fill="#6d1d81"/>
<rect x="177.59" y="191.34" width="6.97" height="6.94" fill="#7b2382"/>
<rect x="184.52" y="191.34" width="6.97" height="6.94" fill="#782281"/>
<rect x="191.44" y="191.34" width="6.97" height="6.94" fill="#762181"/>
<rect x="198.36" y="191.34" width="6.97" height="6.94" fill="#7c2382"/>
<rect x="205.29" y="191.34" width="6.97" height="6.94" fill="#792282"/>
<rect x="212.21" y="191.34" width="6.97" height="6.94" fill="#7b2382"/>
<rect x="219.13" y="191.34" width="6.97" height="6.94" fill="#782281"/>
<rect x="226.06" y="191.34" width="6.97" height="6.94" fill="#792282"/>
<rect x="232.98" y="191.34" width="13.90" height="6.94" fill="#7c2382"/>
<rect x="246.82" y="191.34" width="6.97" height="6.94" fill="#701f81"/>
<rect x="253.75" y="191.34" width="6.97" height="6.94" fill="#671b80"/>
<rect x="260.67" y="191.34" width="6.97" height="6.94" fill="#5f187f"/>
<rect x="267.59" y="191.34" width="6.97" height="6.94" fill="#5a167e"/>
<rect x="274.52" y="191.34" width="6.97" height="6.94" fill="#4e117b"/>
<rect x="281.44" y="191.34" width="6.97" height="6.94" fill="#4a1079"/>
<rect x="288.36" y="191.34" width="6.97" height="6.94" fill="#38106c"/>
<rect x="295.29" y="191.34" width="6.97" height="6.94" fill="#110c2f"/>
<rect x="136.06" y="184.45" width="6.97" height="6.94" fill="#3d0f71"/>
<rect x="142.98" y="184.45" width="6.97" height="6.94" fill="#4a1079"/>
<rect x="149.90" y="184.45" width="6.97" height="6.94" fill="#5c167f"/>
<rect x="156.83" y="184.45" width="6.97" height="6.94" fill="#641a80"/>
<rect x="163.75" y="184.45" width="6.97" height="6.94" fill="#681c81"/>
<rect x="170.67" y="184.45" width="6.97" height="6.94" fill="#701f81"/>
<rect x="177.59" y="184.45" width="6.97" height="6.94" fill="#681c81"/>
<rect x="184.52" y="184.45" width="6.97" height="6.94" fill="#7b2382"/>
<rect x="191.44" y="184.45" width="6.97" height="6.94" fill="#6b1d81"/>
<rect x="198.36" y="184.45" width="6.97" height="6.94" fill="#762181"/>
<rect x="205.29" y="184.45" width="6.97" height="6.94" fill="#732081"/>
<rect x="212.21" y="184.45" width="6.97" height="6.94" fill="#762181"/>
<rect x="219.13" y="184.45" width="6.97" height="6.94" fill="#721f81"/>
<rect x="226.06" y="184.45" width="6.97" height="6.94" fill="#732081"/>
<rect x="232.98" y="184.45" width="13.90" height="6.94" fill="#721f81"/>
<rect x="246.82" y="184.45" width="6.97" height="6.94" fill="#701f81"/>
<rect x="253.75" y="184.45" width="6.97" height="6.94" fill="#601880"/>
<rect x="260.67" y="184.45" width="6.97" height="6.94" fill="#651a80"/>
<rect x="267.59" y="184.45" width="6.97" height="6.94" fill="#5c167f"/>
<rect x="274.52" y="184.45" width="6.97" height="6.94" fill="#54137d"/>
<rect x="281.44" y="184.45" width="6.97" height="6.94" fill="#51127c"/>
<rect x="288.36" y="184.45" width="6.97" height="6.94" fill="#3d0f71"/>
<rect x="302.21" y="184.45" width="6.97" height="6.94" fill="#2f1163"/>
<rect x="122.21" y="177.56" width="6.97" height="6.94" fill="#0b0924"/>
<rect x="129.13" y="177.56" width="6.97" height="6.94" fill="#180f3d"/>
<rect x="136.06" y="177.56" width="6.97" height="6.94" fill="#4a1079"/>
<rect x="142.98" y="177.56" width="6.97" height="6.94" fill="#341069"/>
<rect x="149.90" y="177.56" width="6.97" height="6.94" fill="#54137d"/>
<rect x="156.83" y="177.56" width="6.97" height="6.94" fill="#5c167f"/>
<rect x="163.75" y="177.56" width="6.97" height="6.94" fill="#621980"/>
<rect x="170.67" y="177.56" width="13.90" height="6.94" fill="#5f187f"/>
<rect x="184.52" y="177.56" width="13.90" height="6.94" fill="#6a1c81"/>
<rect x="198.36" y="177.56" width="6.97" height="6.94" fill="#732081"/>
<rect x="205.29" y="177.56" width="6.97" height="6.94" fill="#721f81"/>
<rect x="212.21" y="177.56" width="6.97" height="6.94" fill="#6d1d81"/>
<rect x="219.13" y="177.56" width="6.97" height="6.94" fill="#6b1d81"/>
<rect x="226.06" y="177.56" width="6.97" height="6.94" fill="#762181"/>
<rect x="232.98" y="177.56" width="6.97" height="6.94" fill="#732081"/>
<rect x="239.90" y="177.56" width="6.97" height="6.94" fill="#762181"/>
<rect x="246.82" y="177.56" width="6.97" height="6.94" fill="#701f81"/>
<rect x="253.75" y="177.56" width="6.97" height="6.94" fill="#732081"/>
<rect x="260.67" y="177.56" width="6.97" height="6.94" fill="#6e1e81"/>
<rect x="267.59" y="177.56" width="6.97" height="6.94" fill="#5d177f"/>
<rect x="274.52" y="177.56" width="6.97" height="6.94" fill="#5f187f"/>
<rect x="281.44" y="177.56" width="6.97" height="6.94" fill="#51127c"/>
<rect x="288.36" y="177.56" width="6.97" height="6.94" fill="#3d0f71"/>
<rect x="295.29" y="177.56" width="6.97" height="6.94" fill="#2f1163"/>
<rect x="302.21" y="177.56" width="6.97" height="6.94" fill="#0b0924"/>
<rect x="309.13" y="177.56" width="6.97" height="6.94" fill="#1e1149"/>
<rect x="122.21" y="170.67" width="6.97" height="6.94" fill="#0b0924"/>
<rect x="136.06" y="170.67" width="6.97" height="6.94" fill="#1e1149"/>
<rect x="142.98" y="170.67" width="6.97" height="6.94" fill="#2f1163"/>
<rect x="149.90" y="170.67" width="6.97" height="6.94" fill="#3d0f71"/>
<rect x="156.83" y="170.67" width="6.97" height="6.94" fill="#420f75"/>
<rect x="163.75" y="170.67" width="6.97" height="6.94" fill="#51127c"/>
<rect x="170.67" y="170.67" width="6.97" height="6.94" fill="#54137d"/>
<rect x="177.59" y="170.67" width="6.97" height="6.94" fill="#5c167f"/>
<rect x="184.52" y="170.67" width="6.97" height="6.94" fill="#621980"/>
<rect x="191.44" y="170.67" width="6.97" height="6.94" fill="#671b80"/>
<rect x="198.36" y="170.67" width="6.97" height="6.94" fill="#6e1e81"/>
<rect x="205.29" y="170.67" width="6.97" height="6.94" fill="#752181"/>
<rect x="212.21" y="170.67" width="6.97" height="6.94" fill="#681c81"/>
<rect x="219.13" y="170.67" width="6.97" height="6.94" fill="#732081"/>
<rect x="226.06" y="170.67" width="13.90" height="6.94" fill="#701f81"/>
<rect x="239.90" y="170.67" width="6.97" height="6.94" fill="#752181"/>
<rect x="246.82" y="170.67" width="6.97" height="6.94" fill="#6a1c81"/>
<rect x="253.75" y="170.67" width="6.97" height="6.94" fill="#6b1d81"/>
<rect x="260.67" y="170.67" width="6.97" height="6.94" fill="#732081"/>
<rect x="267.59" y="170.67" width="6.97" height="6.94" fill="#6d1d81"/>
<rect x="274.52" y="170.67" width="6.97" height="6.94" fill="#5f187f"/>
<rect x="281.44" y="170.67" width="6.97" height="6.94" fill="#5c167f"/>
<rect x="288.36" y="170.67" width="13.90" height="6.94" fill="#4a1079"/>
<rect x="302.21" y="170.67" width="6.97" height="6.94" fill="#440f76"/>
<rect x="309.13" y="170.67" width="6.97" height="6.94" fill="#2f1163"/>
<rect x="316.05" y="170.67" width="6.97" height="6.94" fill="#1e1149"/>
<rect x="129.13" y="163.78" width="6.97" height="6.94" fill="#1e1149"/>
<rect x="136.06" y="163.78" width="6.97" height="6.94" fill="#0b0924"/>
<rect x="142.98" y="163.78" width="6.97" height="6.94" fill="#180f3d"/>
<rect x="149.90" y="163.78" width="6.97" height="6.94" fill="#060518"/>
<rect x="156.83" y="163.78" width="6.97" height="6.94" fill="#3d0f71"/>
<rect x="163.75" y="163.78" width="6.97" height="6.94" fill="#4a1079"/>
<rect x="170.67" y="163.78" width="6.97" height="6.94" fill="#2f1163"/>
<rect x="177.59" y="163.78" width="6.97" height="6.94" fill="#4a1079"/>
<rect x="184.52" y="163.78" width="6.97" height="6.94" fill="#54137d"/>
<rect x="191.44" y="163.78" width="6.97" height="6.94" fill="#5f187f"/>
<rect x="198.36" y="163.78" width="6.97" height="6.94" fill="#6d1d81"/>
<rect x="205.29" y="163.78" width="6.97" height="6.94" fill="#641a80"/>
<rect x="212.21" y="163.78" width="6.97" height="6.94" fill="#651a80"/>
<rect x="219.13" y="163.78" width="6.97" height="6.94" fill="#6d1d81"/>
<rect x="226.06" y="163.78" width="6.97" height="6.94" fill="#641a80"/>
<rect x="232.98" y="163.78" width="6.97" height="6.94" fill="#6d1d81"/>
<rect x="239.90" y="163.78" width="6.97" height="6.94" fill="#701f81"/>
<rect x="246.82" y="163.78" width="6.97" height="6.94" fill="#6b1d81"/>
<rect x="253.75" y="163.78" width="6.97" height="6.94" fill="#6a1c81"/>
<rect x="260.67" y="163.78" width="6.97" height="6.94" fill="#641a80"/>
<rect x="267.59" y="163.78" width="6.97" height="6.94" fill="#681c81"/>
<rect x="274.52" y="163.78" width="6.97" height="6.94" fill="#5f187f"/>
<rect x="281.44" y="163.78" width="6.97" height="6.94" fill="#651a80"/>
<rect x="288.36" y="163.78" width="6.97" height="6.94" fill="#621980"/>
<rect x="295.29" y="163.78" width="6.97" height="6.94" fill="#5c167f"/>
<rect x="302.21" y="163.78" width="6.97" height="6.94" fill="#440f76"/>
<rect x="309.13" y="163.78" width="6.97" height="6.94" fill="#2f1163"/>
<rect x="316.05" y="163.78" width="6.97" height="6.94" fill="#29115a"/>
<rect x="322.98" y="163.78" width="6.97" height="6.94" fill="#1e1149"/>
<rect x="329.90" y="163.78" width="6.97" height="6.94" fill="#0b0924"/>
<rect x="142.98" y="156.89" width="6.97" height="6.94" fill="#0b0924"/>
<rect x="149.90" y="156.89" width="6.97" height="6.94" fill="#3d0f71"/>
<rect x="156.83" y="156.89" width="6.97" height="6.94" fill="#1e1149"/>
<rect x="163.75" y="156.89" width="6.97" height="6.94" fill="#180f3d"/>
<rect x="170.67" y="156.89" width="6.97" height="6.94" fill="#38106c"/>
<rect x="177.59" y="156.89" width="6.97" height="6.94" fill="#1e1149"/>
<rect x="184.52" y="156.89" width="6.97" height="6.94" fill="#51127c"/>
<rect x="191.44" y="156.89" width="6.97" height="6.94" fill="#5c167f"/>
<rect x="198.36" y="156.89" width="6.97" height="6.94" fill="#651a80"/>
<rect x="205.29" y="156.89" width="6.97" height="6.94" fill="#5f187f"/>
<rect x="212.21" y="156.89" width="6.97" height="6.94" fill="#6b1d81"/>
<rect x="219.13" y="156.89" width="6.97" height="6.94" fill="#5d177f"/>
<rect x="226.06" y="156.89" width="13.90" height="6.94" fill="#651a80"/>
<rect x="239.90" y="156.89" width="6.97" height="6.94" fill="#681c81"/>
<rect x="246.82" y="156.89" width="6.97" height="6.94" fill="#641a80"/>
<rect x="253.75" y="156.89" width="6.97" height="6.94" fill="#6d1d81"/>
<rect x="260.67" y="156.89" width="6.97" height="6.94" fill="#6e1e81"/>
<rect x="267.59" y="156.89" width="6.97" height="6.94" fill="#6a1c81"/>
<rect x="274.52" y="156.89" width="6.97" height="6.94" fill="#671b80"/>
<rect x="281.44" y="156.89" width="6.97" height="6.94" fill="#5d177f"/>
<rect x="288.36" y="156.89" width="6.97" height="6.94" fill="#641a80"/>
<rect x="295.29" y="156.89" width="6.97" height="6.94" fill="#5c167f"/>
<rect x="302.21" y="156.89" width="13.90" height="6.94" fill="#4a1079"/>
<rect x="316.05" y="156.89" width="6.97" height="6.94" fill="#440f76"/>
<rect x="322.98" y="156.89" width="6.97" height="6.94" fill="#29115a"/>
<rect x="329.90" y="156.89" width="13.90" height="6.94" fill="#0b0924"/>
<rect x="136.06" y="150.00" width="6.97" height="6.94" fill="#110c2f"/>
<rect x="142.98" y="150.00" width="6.97" height="6.94" fill="#0b0924"/>
<rect x="170.67" y="150.00" width="6.97" height="6.94" fill="#1e1149"/>
<rect x="177.59" y="150.00" width="6.97" height="6.94" fill="#3d0f71"/>
<rect x="184.52" y="150.00" width="6.97" height="6.94" fill="#4a1079"/>
<rect x="191.44" y="150.00" width="6.97" height="6.94" fill="#54137d"/>
<rect x="198.36" y="150.00" width="13.90" height="6.94" fill="#5c167f"/>
<rect x="212.21" y="150.00" width="6.97" height="6.94" fill="#641a80"/>
<rect x="219.13" y="150.00" width="6.97" height="6.94" fill="#601880"/>
<rect x="226.06" y="150.00" width="6.97" height="6.94" fill="#5f187f"/>
<rect x="232.98" y="150.00" width="6.97" height="6.94" fill="#601880"/>
<rect x="239.90" y="150.00" width="6.97" height="6.94" fill="#651a80"/>
<rect x="246.82" y="150.00" width="6.97" height="6.94" fill="#681c81"/>
<rect x="253.75" y="150.00" width="6.97" height="6.94" fill="#641a80"/>
<rect x="260.67" y="150.00" width="6.97" height="6.94" fill="#5c167f"/>
<rect x="267.59" y="150.00" width="6.97" height="6.94" fill="#6b1d81"/>
<rect x="274.52" y="150.00" width="13.90" height="6.94" fill="#651a80"/>
<rect x="288.36" y="150.00" width="6.97" height="6.94" fill="#5d177f"/>
<rect x="295.29" y="150.00" width="13.90" height="6.94" fill="#5c167f"/>
<rect x="309.13" y="150.00" width="6.97" height="6.94" fill="#54137d"/>
<rect x="316.05" y="150.00" width="6.97" height="6.94" fill="#3d0f71"/>
<rect x="322.98" y="150.00" width="6.97" height="6.94" fill="#38106c"/>
<rect x="329.90" y="150.00" width="6.97" height="6.94" fill="#0b0924"/>
<rect x="336.82" y="150.00" width="6.97" height="6.94" fill="#1e1149"/>
<rect x="156.83" y="143.11" width="20.82" height="6.94" fill="#110c2f"/>
<rect x="177.59" y="143.11" width="6.97" height="6.94" fill="#1e1149"/>
<rect x="184.52" y="143.11" width="6.97" height="6.94" fill="#3d0f71"/>
<rect x="191.44" y="143.11" width="6.97" height="6.94" fill="#2f1163"/>
<rect x="198.36" y="143.11" width="6.97" height="6.94" fill="#4a1079"/>
<rect x="205.29" y="143.11" width="6.97" height="6.94" fill="#51127c"/>
<rect x="212.21" y="143.11" width="13.90" height="6.94" fill="#440f76"/>
<rect x="226.06" y="143.11" width="6.97" height="6.94" fill="#4a1079"/>
<rect x="232.98" y="143.11" width="6.97" height="6.94" fill="#420f75"/>
<rect x="239.90" y="143.11" width="6.97" height="6.94" fill="#54137d"/>
<rect x="246.82" y="143.11" width="6.97" height="6.94" fill="#5d177f"/>
<rect x="253.75" y="143.11" width="6.97" height="6.94" fill="#5f187f"/>
<rect x="260.67" y="143.11" width="6.97" height="6.94" fill="#5d177f"/>
<rect x="267.59" y="143.11" width="6.97" height="6.94" fill="#671b80"/>
<rect x="274.52" y="143.11" width="6.97" height="6.94" fill="#621980"/>
<rect x="281.44" y="143.11" width="6.97" height="6.94" fill="#5d177f"/>
<rect x="288.36" y="143.11" width="6.97" height="6.94" fill="#5a167e"/>
<rect x="295.29" y="143.11" width="6.97" height="6.94" fill="#5c167f"/>
<rect x="302.21" y="143.11" width="6.97" height="6.94" fill="#57157e"/>
<rect x="309.13" y="143.11" width="6.97" height="6.94" fill="#54137d"/>
<rect x="316.05" y="143.11" width="13.90" height="6.94" fill="#3d0f71"/>
<rect x="329.90" y="143.11" width="6.97" height="6.94" fill="#2f1163"/>
<rect x="336.82" y="143.11" width="6.97" height="6.94" fill="#110c2f"/>
<rect x="343.75" y="143.11" width="6.97" height="6.94" fill="#150e38"/>
<rect x="156.83" y="136.22" width="6.97" height="6.94" fill="#0b0924"/>
<rect x="170.67" y="136.22" width="6.97" height="6.94" fill="#110c2f"/>
<rect x="184.52" y="136.22" width="6.97" height="6.94" fill="#2f1163"/>
<rect x="191.44" y="136.22" width="6.97" height="6.94" fill="#29115a"/>
<rect x="198.36" y="136.22" width="6.97" height="6.94" fill="#4a1079"/>
<rect x="205.29" y="136.22" width="6.97" height="6.94" fill="#51127c"/>
<rect x="212.21" y="136.22" width="6.97" height="6.94" fill="#3d0f71"/>
<rect x="219.13" y="136.22" width="6.97" height="6.94" fill="#440f76"/>
<rect x="226.06" y="136.22" width="6.97" height="6.94" fill="#38106c"/>
<rect x="232.98" y="136.22" width="6.97" height="6.94" fill="#4a1079"/>
<rect x="239.90" y="136.22" width="6.97" height="6.94" fill="#51127c"/>
<rect x="246.82" y="136.22" width="6.97" height="6.94" fill="#54137d"/>
<rect x="253.75" y="136.22" width="13.90" height="6.94" fill="#5a167e"/>
<rect x="267.59" y="136.22" width="6.97" height="6.94" fill="#651a80"/>
<rect x="274.52" y="136.22" width="6.97" height="6.94" fill="#641a80"/>
<rect x="281.44" y="136.22" width="6.97" height="6.94" fill="#57157e"/>
<rect x="288.36" y="136.22" width="6.97" height="6.94" fill="#621980"/>
<rect x="295.29" y="136.22" width="6.97" height="6.94" fill="#5d177f"/>
<rect x="302.21" y="136.22" width="13.90" height="6.94" fill="#54137d"/>
<rect x="316.05" y="136.22" width="6.97" height="6.94" fill="#4a1079"/>
<rect x="322.98" y="136.22" width="6.97" height="6.94" fill="#3d0f71"/>
<rect x="329.90" y="136.22" width="6.97" height="6.94" fill="#341069"/>
<rect x="336.82" y="136.22" width="13.90" height="6.94" fill="#1e1149"/>
<rect x="350.67" y="136.22" width="6.97" height="6.94" fill="#0b0924"/>
<rect x="142.98" y="129.33" width="6.97" height="6.94" fill="#0b0924"/>
<rect x="156.83" y="129.33" width="6.97" height="6.94" fill="#0b0924"/>
<rect x="184.52" y="129.33" width="13.90" height="6.94" fill="#1e1149"/>
<rect x="198.36" y="129.33" width="6.97" height="6.94" fill="#3d0f71"/>
<rect x="205.29" y="129.33" width="6.97" height="6.94" fill="#440f76"/>
<rect x="212.21" y="129.33" width="6.97" height="6.94" fill="#2f1163"/>
<rect x="219.13" y="129.33" width="6.97" height="6.94" fill="#38106c"/>
<rect x="226.06" y="129.33" width="6.97" height="6.94" fill="#420f75"/>
<rect x="232.98" y="129.33" width="6.97" height="6.94" fill="#4a1079"/>
<rect x="239.90" y="129.33" width="6.97" height="6.94" fill="#420f75"/>
<rect x="246.82" y="129.33" width="6.97" height="6.94" fill="#51127c"/>
<rect x="253.75" y="129.33" width="6.97" height="6.94" fill="#5c167f"/>
<rect x="260.67" y="129.33" width="6.97" height="6.94" fill="#601880"/>
<rect x="267.59" y="129.33" width="6.97" height="6.94" fill="#5c167f"/>
<rect x="274.52" y="129.33" width="6.97" height="6.94" fill="#5d177f"/>
<rect x="281.44" y="129.33" width="6.97" height="6.94" fill="#5a167e"/>
<rect x="288.36" y="129.33" width="6.97" height="6.94" fill="#5d177f"/>
<rect x="295.29" y="129.33" width="6.97" height="6.94" fill="#4c117a"/>
<rect x="302.21" y="129.33" width="6.97" height="6.94" fill="#5a167e"/>
<rect x="309.13" y="129.33" width="6.97" height="6.94" fill="#54137d"/>
<rect x="316.05" y="129.33" width="6.97" height="6.94" fill="#4a1079"/>
<rect x="322.98" y="129.33" width="6.97" height="6.94" fill="#1e1149"/>
<rect x="329.90" y="129.33" width="6.97" height="6.94" fill="#38106c"/>
<rect x="336.82" y="129.33" width="6.97" height="6.94" fill="#2f1163"/>
<rect x="343.75" y="129.33" width="6.97" height="6.94" fill="#29115a"/>
<rect x="163.75" y="122.44" width="13.90" height="6.94" fill="#110c2f"/>
<rect x="177.59" y="122.44" width="6.97" height="6.94" fill="#180f3d"/>
<rect x="184.52" y="122.44" width="6.97" height="6.94" fill="#0b0924"/>
<rect x="191.44" y="122.44" width="6.97" height="6.94" fill="#180f3d"/>
<rect x="198.36" y="122.44" width="13.90" height="6.94" fill="#2f1163"/>
<rect x="212.21" y="122.44" width="6.97" height="6.94" fill="#110c2f"/>
<rect x="219.13" y="122.44" width="6.97" height="6.94" fill="#2f1163"/>
<rect x="226.06" y="122.44" width="6.97" height="6.94" fill="#3d0f71"/>
<rect x="232.98" y="122.44" width="6.97" height="6.94" fill="#440f76"/>
<rect x="239.90" y="122.44" width="6.97" height="6.94" fill="#4a1079"/>
<rect x="246.82" y="122.44" width="13.90" height="6.94" fill="#51127c"/>
<rect x="260.67" y="122.44" width="20.82" height="6.94" fill="#57157e"/>
<rect x="281.44" y="122.44" width="13.90" height="6.94" fill="#5a167e"/>
<rect x="295.29" y="122.44" width="6.97" height="6.94" fill="#5f187f"/>
<rect x="302.21" y="122.44" width="6.97" height="6.94" fill="#57157e"/>
<rect x="309.13" y="122.44" width="6.97" height="6.94" fill="#51127c"/>
<rect x="316.05" y="122.44" width="6.97" height="6.94" fill="#4a1079"/>
<rect x="322.98" y="122.44" width="6.97" height="6.94" fill="#3d0f71"/>
<rect x="329.90" y="122.44" width="6.97" height="6.94" fill="#2f1163"/>
<rect x="336.82" y="122.44" width="6.97" height="6.94" fill="#29115a"/>
<rect x="343.75" y="122.44" width="6.97" height="6.94" fill="#1e1149"/>
<rect x="198.36" y="115.55" width="6.97" height="6.94" fill="#0b0924"/>
<rect x="205.29" y="115.55" width="6.97" height="6.94" fill="#060518"/>
<rect x="212.21" y="115.55" width="6.97" height="6.94" fill="#180f3d"/>
<rect x="219.13" y="115.55" width="6.97" height="6.94" fill="#2f1163"/>
<rect x="226.06" y="115.55" width="6.97" height="6.94" fill="#440f76"/>
<rect x="232.98" y="115.55" width="20.82" height="6.94" fill="#4a1079"/>
<rect x="253.75" y="115.55" width="6.97" height="6.94" fill="#440f76"/>
<rect x="260.67" y="115.55" width="6.97" height="6.94" fill="#54137d"/>
<rect x="267.59" y="115.55" width="6.97" height="6.94" fill="#4a1079"/>
<rect x="274.52" y="115.55" width="6.97" height="6.94" fill="#54137d"/>
<rect x="281.44" y="115.55" width="6.97" height="6.94" fill="#5c167f"/>
<rect x="288.36" y="115.55" width="6.97" height="6.94" fill="#4f127b"/>
<rect x="295.29" y="115.55" width="6.97" height="6.94" fill="#5f187f"/>
<rect x="302.21" y="115.55" width="6.97" height="6.94" fill="#4f127b"/>
<rect x="309.13" y="115.55" width="6.97" height="6.94" fill="#51127c"/>
<rect x="316.05" y="115.55" width="6.97" height="6.94" fill="#4a1079"/>
<rect x="322.98" y="115.55" width="6.97" height="6.94" fill="#2f1163"/>
<rect x="329.90" y="115.55" width="6.97" height="6.94" fill="#1e1149"/>
<rect x="336.82" y="115.55" width="6.97" height="6.94" fill="#110c2f"/>
<rect x="212.21" y="108.66" width="6.97" height="6.94" fill="#110c2f"/>
<rect x="219.13" y="108.66" width="13.90" height="6.94" fill="#2f1163"/>
<rect x="232.98" y="108.66" width="6.97" height="6.94" fill="#420f75"/>
<rect x="239.90" y="108.66" width="6.97" height="6.94" fill="#440f76"/>
<rect x="246.82" y="108.66" width="13.90" height="6.94" fill="#4a1079"/>
<rect x="260.67" y="108.66" width="6.97" height="6.94" fill="#51127c"/>
<rect x="267.59" y="108.66" width="6.97" height="6.94" fill="#54137d"/>
<rect x="274.52" y="108.66" width="6.97" height="6.94" fill="#621980"/>
<rect x="281.44" y="108.66" width="6.97" height="6.94" fill="#59157e"/>
<rect x="288.36" y="108.66" width="6.97" height="6.94" fill="#4c117a"/>
<rect x="295.29" y="108.66" width="6.97" height="6.94" fill="#451077"/>
<rect x="302.21" y="108.66" width="6.97" height="6.94" fill="#57157e"/>
<rect x="309.13" y="108.66" width="6.97" height="6.94" fill="#51127c"/>
<rect x="316.05" y="108.66" width="6.97" height="6.94" fill="#4a1079"/>
<rect x="322.98" y="108.66" width="6.97" height="6.94" fill="#2f1163"/>
<rect x="329.90" y="108.66" width="6.97" height="6.94" fill="#440f76"/>
<rect x="336.82" y="108.66" width="6.97" height="6.94" fill="#2f1163"/>
<rect x="205.29" y="101.77" width="6.97" height="6.94" fill="#150e38"/>
<rect x="212.21" y="101.77" width="6.97" height="6.94" fill="#060518"/>
<rect x="219.13" y="101.77" width="13.90" height="6.94" fill="#180f3d"/>
<rect x="232.98" y="101.77" width="6.97" height="6.94" fill="#38106c"/>
<rect x="239.90" y="101.77" width="6.97" height="6.94" fill="#3d0f71"/>
<rect x="246.82" y="101.77" width="6.97" height="6.94" fill="#440f76"/>
<rect x="253.75" y="101.77" width="6.97" height="6.94" fill="#4a1079"/>
<rect x="260.67" y="101.77" width="6.97" height="6.94" fill="#51127c"/>
<rect x="267.59" y="101.77" width="27.74" height="6.94" fill="#54137d"/>
<rect x="295.29" y="101.77" width="13.90" height="6.94" fill="#51127c"/>
<rect x="309.13" y="101.77" width="6.97" height="6.94" fill="#4a1079"/>
<rect x="316.05" y="101.77" width="6.97" height="6.94" fill="#440f76"/>
<rect x="322.98" y="101.77" width="6.97" height="6.94" fill="#38106c"/>
<rect x="329.90" y="101.77" width="6.97" height="6.94" fill="#2f1163"/>
<rect x="336.82" y="101.77" width="6.97" height="6.94" fill="#0b0924"/>
<rect x="343.75" y="101.77" width="6.97" height="6.94" fill="#110c2f"/>
<rect x="226.06" y="94.88" width="6.97" height="6.94" fill="#180f3d"/>
<rect x="232.98" y="94.88" width="13.90" height="6.94" fill="#2f1163"/>
<rect x="246.82" y="94.88" width="6.97" height="6.94" fill="#420f75"/>
<rect x="253.75" y="94.88" width="6.97" height="6.94" fill="#440f76"/>
<rect x="260.67" y="94.88" width="6.97" height="6.94" fill="#4a1079"/>
<rect x="267.59" y="94.88" width="13.90" height="6.94" fill="#51127c"/>
<rect x="281.44" y="94.88" width="6.97" height="6.94" fill="#54137d"/>
<rect x="288.36" y="94.88" width="6.97" height="6.94" fill="#4a1079"/>
<rect x="295.29" y="94.88" width="6.97" height="6.94" fill="#51127c"/>
<rect x="302.21" y="94.88" width="6.97" height="6.94" fill="#420f75"/>
<rect x="309.13" y="94.88" width="6.97" height="6.94" fill="#4a1079"/>
<rect x="316.05" y="94.88" width="6.97" height="6.94" fill="#440f76"/>
<rect x="322.98" y="94.88" width="6.97" height="6.94" fill="#29115a"/>
<rect x="329.90" y="94.88" width="6.97" height="6.94" fill="#1e1149"/>
<rect x="336.82" y="94.88" width="6.97" height="6.94" fill="#110c2f"/>
<rect x="343.75" y="94.88" width="6.97" height="6.94" fill="#180f3d"/>
<rect x="212.21" y="87.99" width="6.97" height="6.94" fill="#0b0924"/>
<rect x="226.06" y="87.99" width="13.90" height="6.94" fill="#0b0924"/>
<rect x="239.90" y="87.99" width="6.97" height="6.94" fill="#1e1149"/>
<rect x="246.82" y="87.99" width="6.97" height="6.94" fill="#3d0f71"/>
<rect x="253.75" y="87.99" width="6.97" height="6.94" fill="#420f75"/>
<rect x="260.67" y="87.99" width="6.97" height="6.94" fill="#4a1079"/>
<rect x="267.59" y="87.99" width="6.97" height="6.94" fill="#51127c"/>
<rect x="274.52" y="87.99" width="13.90" height="6.94" fill="#4a1079"/>
<rect x="288.36" y="87.99" width="6.97" height="6.94" fill="#51127c"/>
<rect x="295.29" y="87.99" width="6.97" height="6.94" fill="#4a1079"/>
<rect x="302.21" y="87.99" width="6.97" height="6.94" fill="#51127c"/>
<rect x="309.13" y="87.99" width="6.97" height="6.94" fill="#440f76"/>
<rect x="316.05" y="87.99" width="13.90" height="6.94" fill="#1e1149"/>
<rect x="232.98" y="81.10" width="6.97" height="6.94" fill="#060518"/>
<rect x="239.90" y="81.10" width="6.97" height="6.94" fill="#110c2f"/>
<rect x="246.82" y="81.10" width="6.97" height="6.94" fill="#2f1163"/>
<rect x="253.75" y="81.10" width="6.97" height="6.94" fill="#38106c"/>
<rect x="260.67" y="81.10" width="6.97" height="6.94" fill="#440f76"/>
<rect x="267.59" y="81.10" width="41.59" height="6.94" fill="#4a1079"/>
<rect x="309.13" y="81.10" width="6.97" height="6.94" fill="#440f76"/>
<rect x="316.05" y="81.10" width="13.90" height="6.94" fill="#2f1163"/>
<rect x="336.82" y="81.10" width="6.97" height="6.94" fill="#110c2f"/>
<rect x="226.06" y="74.21" width="6.97" height="6.94" fill="#0b0924"/>
<rect x="239.90" y="74.21" width="13.90" height="6.94" fill="#1e1149"/>
<rect x="253.75" y="74.21" width="6.97" height="6.94" fill="#2f1163"/>
<rect x="260.67" y="74.21" width="6.97" height="6.94" fill="#440f76"/>
<rect x="267.59" y="74.21" width="6.97" height="6.94" fill="#5c167f"/>
<rect x="274.52" y="74.21" width="20.82" height="6.94" fill="#4a1079"/>
<rect x="295.29" y="74.21" width="6.97" height="6.94" fill="#51127c"/>
<rect x="302.21" y="74.21" width="6.97" height="6.94" fill="#54137d"/>
<rect x="309.13" y="74.21" width="6.97" height="6.94" fill="#3d0f71"/>
<rect x="316.05" y="74.21" width="6.97" height="6.94" fill="#2f1163"/>
<rect x="322.98" y="74.21" width="6.97" height="6.94" fill="#29115a"/>
<rect x="329.90" y="74.21" width="6.97" height="6.94" fill="#0b0924"/>
<rect x="232.98" y="67.32" width="6.97" height="6.94" fill="#1e1149"/>
<rect x="239.90" y="67.32" width="13.90" height="6.94" fill="#180f3d"/>
<rect x="253.75" y="67.32" width="6.97" height="6.94" fill="#2f1163"/>
<rect x="260.67" y="67.32" width="6.97" height="6.94" fill="#54137d"/>
<rect x="267.59" y="67.32" width="6.97" height="6.94" fill="#651a80"/>
<rect x="274.52" y="67.32" width="6.97" height="6.94" fill="#54137d"/>
<rect x="281.44" y="67.32" width="13.90" height="6.94" fill="#4a1079"/>
<rect x="295.29" y="67.32" width="6.97" height="6.94" fill="#440f76"/>
<rect x="302.21" y="67.32" width="6.97" height="6.94" fill="#4a1079"/>
<rect x="309.13" y="67.32" width="6.97" height="6.94" fill="#38106c"/>
<rect x="316.05" y="67.32" width="6.97" height="6.94" fill="#2f1163"/>
<rect x="329.90" y="67.32" width="6.97" height="6.94" fill="#29115a"/>
<rect x="336.82" y="67.32" width="6.97" height="6.94" fill="#180f3d"/>
<rect x="253.75" y="60.43" width="6.97" height="6.94" fill="#3d0f71"/>
<rect x="260.67" y="60.43" width="6.97" height="6.94" fill="#54137d"/>
<rect x="267.59" y="60.43" width="6.97" height="6.94" fill="#4a1079"/>
<rect x="274.52" y="60.43" width="6.97" height="6.94" fill="#54137d"/>
<rect x="281.44" y="60.43" width="6.97" height="6.94" fill="#2f1163"/>
<rect x="288.36" y="60.43" width="6.97" height="6.94" fill="#3d0f71"/>
<rect x="295.29" y="60.43" width="6.97" height="6.94" fill="#4a1079"/>
<rect x="302.21" y="60.43" width="6.97" height="6.94" fill="#150e38"/>
<rect x="309.13" y="60.43" width="6.97" height="6.94" fill="#3d0f71"/>
<rect x="316.05" y="60.43" width="13.90" height="6.94" fill="#29115a"/>
<rect x="329.90" y="60.43" width="6.97" height="6.94" fill="#150e38"/>
<rect x="246.82" y="53.54" width="6.97" height="6.94" fill="#180f3d"/>
<rect x="253.75" y="53.54" width="6.97" height="6.94" fill="#1e1149"/>
<rect x="260.67" y="53.54" width="6.97" height="6.94" fill="#0b0924"/>
<rect x="267.59" y="53.54" width="6.97" height="6.94" fill="#440f76"/>
<rect x="274.52" y="53.54" width="6.97" height="6.94" fill="#2f1163"/>
<rect x="281.44" y="53.54" width="13.90" height="6.94" fill="#4a1079"/>
<rect x="295.29" y="53.54" width="6.97" height="6.94" fill="#3d0f71"/>
<rect x="302.21" y="53.54" width="6.97" height="6.94" fill="#440f76"/>
<rect x="309.13" y="53.54" width="6.97" height="6.94" fill="#090720"/>
<rect x="316.05" y="53.54" width="13.90" height="6.94" fill="#2f1163"/>
<rect x="329.90" y="53.54" width="6.97" height="6.94" fill="#0b0924"/>
<rect x="253.75" y="46.65" width="6.97" height="6.94" fill="#1e1149"/>
<rect x="260.67" y="46.65" width="6.97" height="6.94" fill="#0b0924"/>
<rect x="267.59" y="46.65" width="6.97" height="6.94" fill="#180f3d"/>
<rect x="274.52" y="46.65" width="6.97" height="6.94" fill="#3d0f71"/>
<rect x="281.44" y="46.65" width="6.97" height="6.94" fill="#150e38"/>
<rect x="288.36" y="46.65" width="6.97" height="6.94" fill="#29115a"/>
<rect x="295.29" y="46.65" width="13.90" height="6.94" fill="#1e1149"/>
<rect x="309.13" y="46.65" width="6.97" height="6.94" fill="#0b0924"/>
<rect x="322.98" y="46.65" width="6.97" height="6.94" fill="#0b0924"/>
<rect x="329.90" y="46.65" width="6.97" height="6.94" fill="#150e38"/>
<rect x="253.75" y="39.76" width="13.90" height="6.94" fill="#0b0924"/>
<rect x="267.59" y="39.76" width="13.90" height="6.94" fill="#2f1163"/>
<rect x="281.44" y="39.76" width="13.90" height="6.94" fill="#150e38"/>
<rect x="295.29" y="39.76" width="13.90" height="6.94" fill="#0b0924"/>
<rect x="309.13" y="39.76" width="13.90" height="6.94" fill="#1e1149"/>
<rect x="322.98" y="39.76" width="6.97" height="6.94" fill="#0b0924"/>
<rect x="260.67" y="32.87" width="6.97" height="6.94" fill="#0b0924"/>
<rect x="274.52" y="32.87" width="6.97" height="6.94" fill="#1e1149"/>
<rect x="281.44" y="32.87" width="6.97" height="6.94" fill="#0b0924"/>
<rect x="302.21" y="32.87" width="6.97" height="6.94" fill="#0b0924"/>
<rect x="260.67" y="25.98" width="20.82" height="6.94" fill="#0b0924"/>
<rect x="288.36" y="25.98" width="6.97" height="6.94" fill="#0b0924"/>
<rect x="302.21" y="25.98" width="6.97" height="6.94" fill="#1e1149"/>
<rect x="309.13" y="25.98" width="13.90" height="6.94" fill="#0b0924"/>
</g></g></g>
<line x1="73.75" y1="357.4" x2="419.9" y2="12.2" stroke="#4275b0" stroke-width="0.75" opacity="0.9"/>
<!-- spines -->
<rect x="73.7" y="12.4" width="346.0" height="344.2" fill="none" stroke="#000" stroke-width="0.8"/>
<!-- x ticks -->
<g stroke="#000" stroke-width="1">
<line x1="77.2" y1="356.8" x2="77.2" y2="361.4"/>
<line x1="146.6" y1="356.8" x2="146.6" y2="361.4"/>
<line x1="216" y1="356.8" x2="216" y2="361.4"/>
<line x1="285.5" y1="356.8" x2="285.5" y2="361.4"/>
<line x1="355" y1="356.8" x2="355" y2="361.4"/>
<line x1="69.4" y1="354" x2="73.5" y2="354"/>
<line x1="69.4" y1="285" x2="73.5" y2="285"/>
<line x1="69.4" y1="216" x2="73.5" y2="216"/>
<line x1="69.4" y1="147" x2="73.5" y2="147"/>
<line x1="69.4" y1="77.8" x2="73.5" y2="77.8"/>
</g>
<g font-size="13.8">
<text x="77.2" y="377.6" text-anchor="middle">0</text>
<text x="110.9" y="383" text-anchor="middle">0%</text>
<text x="181.4" y="383" text-anchor="middle">5%</text>
<text x="251.5" y="383" text-anchor="middle">10%</text>
<text x="321.6" y="383" text-anchor="middle">15%</text>
<text x="391.7" y="383" text-anchor="middle">20%</text>
<text x="63" y="358.8" text-anchor="end">0%</text>
<text x="63" y="289.8" text-anchor="end">5%</text>
<text x="63" y="220.8" text-anchor="end">10%</text>
<text x="63" y="151.8" text-anchor="end">15%</text>
<text x="63" y="82.6" text-anchor="end">20%</text>
</g>
<text x="240.6" y="405" text-anchor="middle" font-size="14.4">Lesion density right hemisphere</text>
<text transform="translate(24.3,186.8) rotate(-90)" text-anchor="middle" font-size="14.3">Lesion density left hemisphere</text>
<!-- colorbar -->
<rect x="442.7" y="12" width="16.9" height="344.3" fill="url(#cb)"/>
<rect x="442.7" y="11.8" width="16.9" height="344.7" fill="none" stroke="#222" stroke-width="0.8"/>
<g stroke="#000" stroke-width="1">
<line x1="459.6" y1="356" x2="464" y2="356"/>
<line x1="459.6" y1="296.1" x2="464" y2="296.1"/>
<line x1="459.6" y1="236.2" x2="464" y2="236.2"/>
<line x1="459.6" y1="176.3" x2="464" y2="176.3"/>
<line x1="459.6" y1="116.4" x2="464" y2="116.4"/>
<line x1="459.6" y1="56.5" x2="464" y2="56.5"/>
</g>
<g font-size="13.8">
<text x="470.2" y="360.7">0</text>
<text x="470.2" y="300.8">2</text>
<text x="470.2" y="240.9">4</text>
<text x="470.2" y="181">6</text>
<text x="470.2" y="121.1">8</text>
<text x="470.2" y="61.2">10</text>
</g>
<text transform="translate(505.6,186.5) rotate(-90)" text-anchor="middle" font-size="14.2">Log (# voxels)</text>
<g font-size="11.5" font-style="italic">
<text x="329.7" y="303.6" style="fill:#dcdcdc" letter-spacing="0.2">r = 0.878</text>
<text x="330.1" y="319.3" style="fill:#dcdcdc">P &lt; 0.001</text>
</g>
</svg>
</body></html>
